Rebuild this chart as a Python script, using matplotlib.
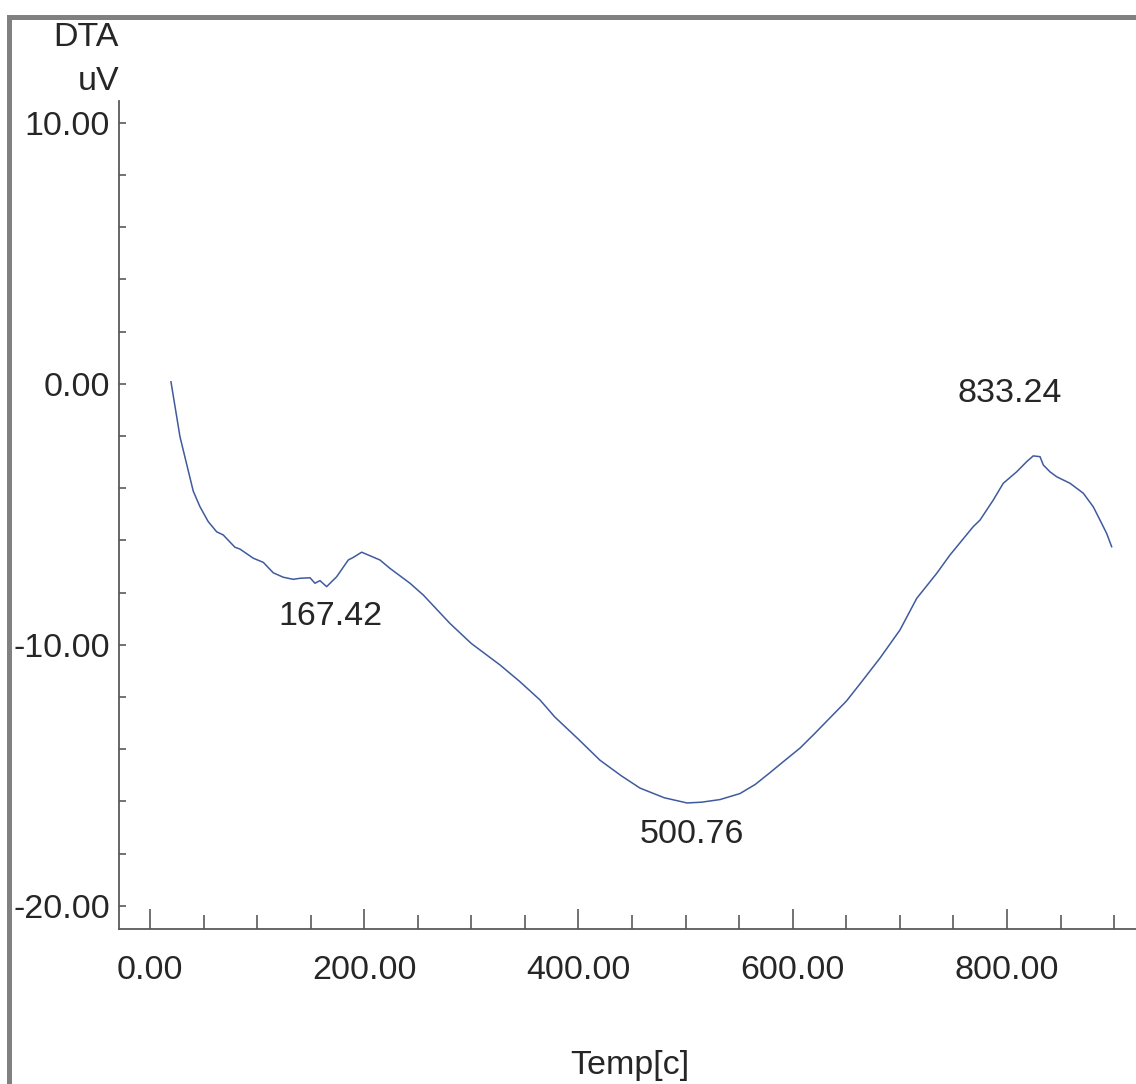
import matplotlib
matplotlib.use("Agg")
import matplotlib.pyplot as plt
from matplotlib.patches import Rectangle
from matplotlib.ticker import MultipleLocator, FormatStrFormatter

# ---- data ----
temp = [19.6, 28.0, 34.8, 40.4, 46.7, 54.4, 62.3, 68.4, 79.3, 84.0, 96.4, 105.8,
        115.1, 124.4, 133.8, 140.0, 149.4, 154.0, 158.7, 164.9, 174.3, 185.1,
        189.8, 197.6, 214.7, 224.0, 242.7, 255.1, 280.0, 300.0, 326.7, 345.0,
        364.0, 378.0, 400.0, 420.0, 440.0, 457.4, 480.0, 501.3, 515.0, 532.1,
        550.7, 565.0, 578.7, 592.0, 606.7, 620.0, 634.7, 650.0, 662.7, 681.4,
        700.1, 715.7, 734.4, 746.7, 768.5, 774.8, 787.2, 796.5, 809.0, 818.4,
        824.5, 830.8, 833.9, 840.1, 846.4, 858.8, 871.2, 880.5, 886.8, 893.0,
        897.7]
dta = [0.08, -2.02, -3.17, -4.11, -4.71, -5.28, -5.67, -5.79, -6.26, -6.33,
       -6.68, -6.84, -7.24, -7.41, -7.49, -7.45, -7.43, -7.64, -7.54, -7.77,
       -7.39, -6.75, -6.65, -6.45, -6.75, -7.07, -7.64, -8.09, -9.18, -9.95,
       -10.77, -11.40, -12.11, -12.77, -13.62, -14.42, -15.02, -15.49, -15.86,
       -16.06, -16.03, -15.93, -15.70, -15.35, -14.90, -14.45, -13.96, -13.42,
       -12.80, -12.16, -11.50, -10.51, -9.43, -8.22, -7.26, -6.56, -5.47, -5.22,
       -4.45, -3.81, -3.37, -2.98, -2.76, -2.79, -3.11, -3.37, -3.56, -3.81,
       -4.19, -4.71, -5.22, -5.73, -6.24]
peak_labels = ["167.42", "500.76", "833.24"]
peak_label_x = [168.7, 505.9, 802.8]
peak_label_y = [-9.24, -17.60, -0.68]
x_ticks = [0, 200, 400, 600, 800]
y_ticks = [-20, -10, 0, 10]

FONT = "Liberation Sans"
TXT = "#262626"
AX = "#5a5a5a"
W, H = 1136, 1084

plt.rcParams["font.family"] = [FONT, "DejaVu Sans"]
fig = plt.figure(figsize=(W / 100, H / 100), dpi=100)
fig.patch.set_facecolor("white")

left, right, top, bottom = 119, 1136, 101, 929
ax = fig.add_axes([left / W, 1 - bottom / H, (right - left) / W, (bottom - top) / H])
ax.set_xlim(-28.9, 920.4)
ax.set_ylim(-20.89, 10.84)

ax.plot(temp, dta, color="#3f5a9e", lw=1.1, solid_joinstyle="round")

for s in ["top", "right"]:
    ax.spines[s].set_visible(False)
for s in ["left", "bottom"]:
    ax.spines[s].set_color(AX)
    ax.spines[s].set_linewidth(1.3)

ax.set_xticks(x_ticks)
ax.xaxis.set_minor_locator(MultipleLocator(50))
ax.set_yticks(y_ticks)
ax.yaxis.set_minor_locator(MultipleLocator(2))
ax.xaxis.set_major_formatter(FormatStrFormatter("%.2f"))
ax.yaxis.set_major_formatter(FormatStrFormatter("%.2f"))

ax.tick_params(axis="x", which="major", direction="in", length=14.4, width=1.2,
               color=AX, pad=19, labelsize=24.5, labelcolor=TXT)
ax.tick_params(axis="x", which="minor", direction="in", length=10, width=1.2, color=AX)
ax.tick_params(axis="y", which="both", direction="in", length=5, width=1.2,
               color=AX, pad=6.5, labelsize=24.5, labelcolor=TXT)

for t, lx, ly in zip(peak_labels, peak_label_x, peak_label_y):
    ax.text(lx, ly, t, ha="center", va="baseline", fontsize=24.5, color=TXT)

fig.text(119 / W, 1 - 45.7 / H, "DTA", ha="right", va="baseline", fontsize=24.5, color=TXT)
fig.text(119 / W, 1 - 90 / H, "uV", ha="right", va="baseline", fontsize=24.5, color=TXT)
fig.text(630 / W, 1 - 1074 / H, "Temp[c]", ha="center", va="baseline", fontsize=24.5, color=TXT)

# grey frame on left and top
fig.add_artist(Rectangle((7 / W, 0), 5 / W, 1 - 15 / H, transform=fig.transFigure,
                         facecolor="#808080", edgecolor="none"))
fig.add_artist(Rectangle((7 / W, 1 - 20 / H), 1 - 7 / W, 5 / H, transform=fig.transFigure,
                         facecolor="#808080", edgecolor="none"))

fig.savefig("out.png", dpi=100, facecolor="white")
